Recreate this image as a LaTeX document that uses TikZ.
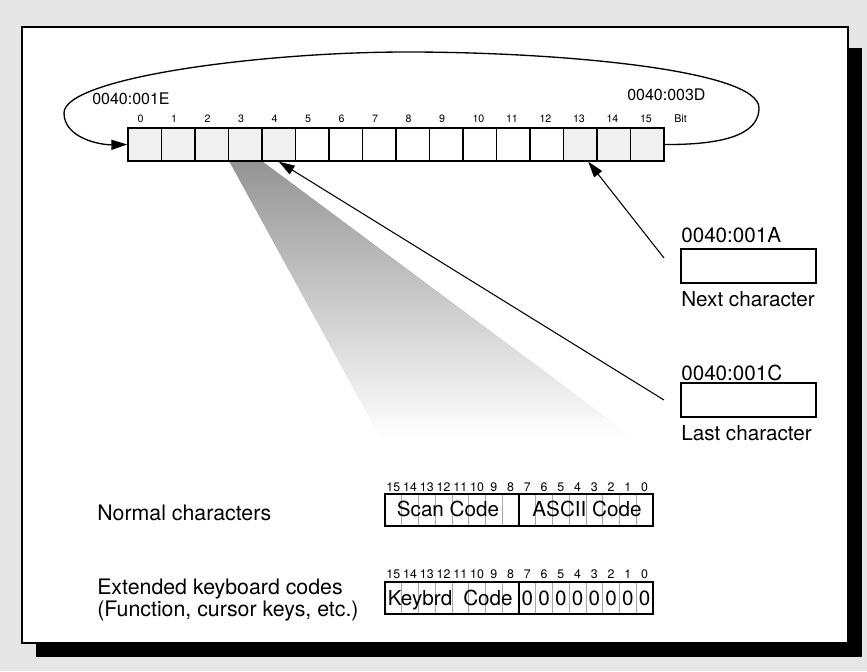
\documentclass[tikz,border=0pt]{standalone}
\usepackage{fontspec}
\setmainfont{TeX Gyre Heros}
\usetikzlibrary{arrows.meta,calc}
\definecolor{bg}{HTML}{E6E6E6}
\definecolor{cellgray}{HTML}{F0F0F0}
\definecolor{divgray}{HTML}{A8A8A8}
\begin{document}
\begin{tikzpicture}[x=0.75pt,y=-0.75pt,
 cellbox/.style={draw=black,line width=1pt,minimum width=25.125pt,minimum height=24.75pt,inner sep=0pt},
 topbit/.style={font=\fontsize{8}{9}\selectfont,anchor=base west,inner sep=0pt},
 lowbit/.style={font=\fontsize{9.3}{10}\selectfont,anchor=base,inner sep=0pt},
 bigtxt/.style={font=\fontsize{15.5}{18}\selectfont,inner sep=0pt},
 lefttxt/.style={font=\fontsize{16}{19}\selectfont,inner sep=0pt,anchor=base west},
 medtxt/.style={font=\fontsize{12}{14}\selectfont,inner sep=0pt,anchor=base west},
 tipstyle/.style={-{Triangle[length=12pt,width=7.5pt]}},
 ptr/.style={line width=0.8pt,tipstyle},
 loopline/.style={line width=1pt},
 fieldbox/.style={draw=black,line width=0.8pt,minimum width=201pt,minimum height=24pt,inner sep=0pt},
 ptrbox/.style={draw=black,line width=0.8pt,minimum width=101.25pt,minimum height=25.5pt,inner sep=0pt},
 divline/.style={draw=divgray,line width=0.6pt},
 mainsep/.style={line width=1.6pt}]
\useasboundingbox (0,0) rectangle (867,671);
\fill[bg] (0,0) rectangle (867,671);
\fill[black] (36,48) rectangle (862,657);
\draw[fill=white,line width=0.8pt] (22,27) rectangle (848,643);
% fading wedge
\shade[top color=black!42,bottom color=white] (229,161) -- (262,161) -- (633,437) -- (380,437) -- cycle;
% register cells
\foreach \i/\f in {0/cellgray,1/cellgray,2/cellgray,3/cellgray,4/cellgray,5/white,6/white,7/white,8/white,9/white,10/white,11/white,12/white,13/cellgray,14/cellgray,15/cellgray}{
  \pgfmathsetmacro\cx{128+33.5*\i+16.75}
  \node[cellbox,fill=\f] (c\i) at (\cx,144.5) {};
  \node[topbit] (b\i) at (\cx-7.5,122) {\i};
}
\node[topbit] (bit) at (674,122) {Bit};
\node[medtxt] (a1e) at (92,104) {0040:001E};
\node[medtxt] (a3d) at (627,100) {0040:003D};
% ring loop
\draw[loopline,tipstyle] (c15.east) .. controls (735,145) and (759,130) .. (759,108)
  .. controls (759,70) and (560,52) .. (407,52)
  .. controls (260,52) and (64,78) .. (64,113)
  .. controls (64,138) and (100,145) .. (c0.west);
% pointer boxes
\node[ptrbox] (nx) at (748.5,266) {};
\node[bigtxt,anchor=base west] (nxa) at (681,242) {0040:001A};
\node[bigtxt,anchor=base west] (nxl) at (681,306) {Next character};
\node[ptrbox] (ls) at (748.5,400) {};
\node[bigtxt,anchor=base west] (lsa) at (681,380) {0040:001C};
\node[bigtxt,anchor=base west] (lsl) at (681,440) {Last character};
\coordinate (t1) at (664,258);
\coordinate (t2) at (664,400);
\draw[ptr] (t1) -- ([xshift=6pt]c13.south);
\draw[ptr] (t2) -- (c4.south);
% field A
\foreach \k in {1,...,15}{\draw[divline] (385+16.75*\k,494) -- (385+16.75*\k,526);}
\draw[mainsep] (519,494) -- (519,526);
\node[fieldbox] (fa) at (519,510) {};
\foreach \j in {0,...,15}{
  \pgfmathtruncatemacro\lbl{15-\j}
  \node[lowbit] at (385+16.75*\j+8.375,491) {\lbl};
}
\node[bigtxt,anchor=base] (sc) at (448,516) {Scan Code};
\node[bigtxt,anchor=base] (ac) at (587,516) {ASCII Code};
% field B
\foreach \k in {1,...,15}{\draw[divline] (385+16.75*\k,582) -- (385+16.75*\k,614);}
\draw[mainsep] (519,582) -- (519,614);
\node[fieldbox] (fb) at (519,598) {};
\foreach \j in {0,...,15}{
  \pgfmathtruncatemacro\lbl{15-\j}
  \node[lowbit] at (385+16.75*\j+8.375,578) {\lbl};
}
\node[bigtxt,anchor=base] (kb) at (420,605) {Keybrd};
\node[bigtxt,anchor=base] (kc) at (488,605) {Code};
\foreach \j in {8,...,15}{
  \node[bigtxt,anchor=base] at (385+16.75*\j+8.375,605) {0};
}
% left labels
\node[lefttxt] (nc) at (97,520) {Normal characters};
\node[lefttxt] (ek) at (97,594) {Extended keyboard codes};
\node[lefttxt] (fk) at (97,616) {(Function, cursor keys, etc.)};
\end{tikzpicture}
\end{document}
